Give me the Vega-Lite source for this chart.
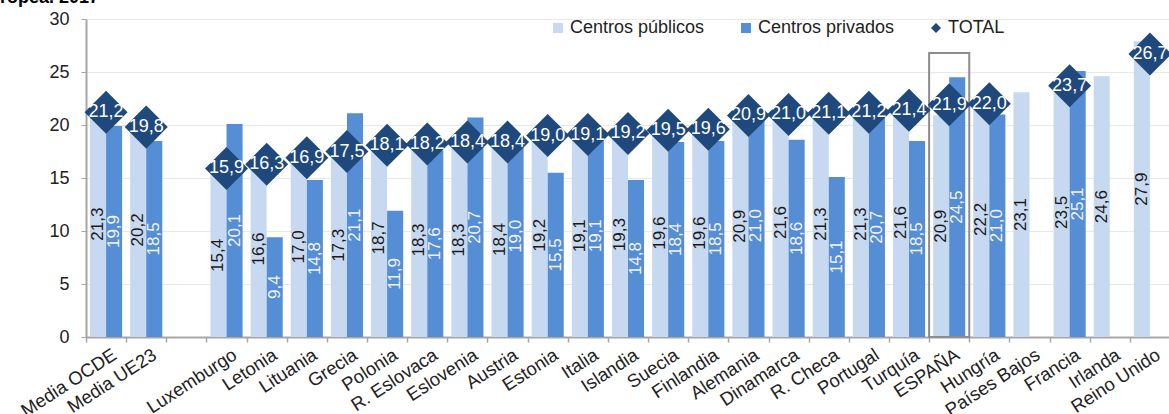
{
  "$schema": "https://vega.github.io/schema/vega-lite/v6.json",
  "autosize": "none",
  "width": 1084,
  "height": 318,
  "padding": {"left": 86, "top": 19, "right": 0, "bottom": 77},
  "background": "white",
  "title": {"text": "ropea. 2017", "anchor": "start", "frame": "group", "dx": -86, "offset": 3, "fontSize": 18, "fontWeight": "bold", "font": "Liberation Sans", "color": "#000000"},
  "config": {
    "view": {"stroke": null},
    "font": "Liberation Sans",
    "locale": {"number": {"decimal": ",", "thousands": ".", "grouping": [3], "currency": ["", " €"]}},
    "legend": {"orient": "none", "legendX": 463, "legendY": 0, "direction": "horizontal", "padding": 0, "symbolSize": 100, "labelFontSize": 18, "labelFont": "Liberation Sans", "labelColor": "#222222", "labelOffset": 3, "columnPadding": 32, "symbolStrokeWidth": 0}
  },
  "data": {"values": [
    {"pais": "Media OCDE", "serie": "Centros públicos", "valor": 21.3},
    {"pais": "Media OCDE", "serie": "Centros privados", "valor": 19.9},
    {"pais": "Media OCDE", "serie": "TOTAL", "valor": 21.2},
    {"pais": "Media UE23", "serie": "Centros públicos", "valor": 20.2},
    {"pais": "Media UE23", "serie": "Centros privados", "valor": 18.5},
    {"pais": "Media UE23", "serie": "TOTAL", "valor": 19.8},
    {"pais": "Luxemburgo", "serie": "Centros públicos", "valor": 15.4},
    {"pais": "Luxemburgo", "serie": "Centros privados", "valor": 20.1},
    {"pais": "Luxemburgo", "serie": "TOTAL", "valor": 15.9},
    {"pais": "Letonia", "serie": "Centros públicos", "valor": 16.6},
    {"pais": "Letonia", "serie": "Centros privados", "valor": 9.4},
    {"pais": "Letonia", "serie": "TOTAL", "valor": 16.3},
    {"pais": "Lituania", "serie": "Centros públicos", "valor": 17.0},
    {"pais": "Lituania", "serie": "Centros privados", "valor": 14.8},
    {"pais": "Lituania", "serie": "TOTAL", "valor": 16.9},
    {"pais": "Grecia", "serie": "Centros públicos", "valor": 17.3},
    {"pais": "Grecia", "serie": "Centros privados", "valor": 21.1},
    {"pais": "Grecia", "serie": "TOTAL", "valor": 17.5},
    {"pais": "Polonia", "serie": "Centros públicos", "valor": 18.7},
    {"pais": "Polonia", "serie": "Centros privados", "valor": 11.9},
    {"pais": "Polonia", "serie": "TOTAL", "valor": 18.1},
    {"pais": "R. Eslovaca", "serie": "Centros públicos", "valor": 18.3},
    {"pais": "R. Eslovaca", "serie": "Centros privados", "valor": 17.6},
    {"pais": "R. Eslovaca", "serie": "TOTAL", "valor": 18.2},
    {"pais": "Eslovenia", "serie": "Centros públicos", "valor": 18.3},
    {"pais": "Eslovenia", "serie": "Centros privados", "valor": 20.7},
    {"pais": "Eslovenia", "serie": "TOTAL", "valor": 18.4},
    {"pais": "Austria", "serie": "Centros públicos", "valor": 18.4},
    {"pais": "Austria", "serie": "Centros privados", "valor": 19.0},
    {"pais": "Austria", "serie": "TOTAL", "valor": 18.4},
    {"pais": "Estonia", "serie": "Centros públicos", "valor": 19.2},
    {"pais": "Estonia", "serie": "Centros privados", "valor": 15.5},
    {"pais": "Estonia", "serie": "TOTAL", "valor": 19.0},
    {"pais": "Italia", "serie": "Centros públicos", "valor": 19.1},
    {"pais": "Italia", "serie": "Centros privados", "valor": 19.1},
    {"pais": "Italia", "serie": "TOTAL", "valor": 19.1},
    {"pais": "Islandia", "serie": "Centros públicos", "valor": 19.3},
    {"pais": "Islandia", "serie": "Centros privados", "valor": 14.8},
    {"pais": "Islandia", "serie": "TOTAL", "valor": 19.2},
    {"pais": "Suecia", "serie": "Centros públicos", "valor": 19.6},
    {"pais": "Suecia", "serie": "Centros privados", "valor": 18.4},
    {"pais": "Suecia", "serie": "TOTAL", "valor": 19.5},
    {"pais": "Finlandia", "serie": "Centros públicos", "valor": 19.6},
    {"pais": "Finlandia", "serie": "Centros privados", "valor": 18.5},
    {"pais": "Finlandia", "serie": "TOTAL", "valor": 19.6},
    {"pais": "Alemania", "serie": "Centros públicos", "valor": 20.9},
    {"pais": "Alemania", "serie": "Centros privados", "valor": 21.0},
    {"pais": "Alemania", "serie": "TOTAL", "valor": 20.9},
    {"pais": "Dinamarca", "serie": "Centros públicos", "valor": 21.6},
    {"pais": "Dinamarca", "serie": "Centros privados", "valor": 18.6},
    {"pais": "Dinamarca", "serie": "TOTAL", "valor": 21.0},
    {"pais": "R. Checa", "serie": "Centros públicos", "valor": 21.3},
    {"pais": "R. Checa", "serie": "Centros privados", "valor": 15.1},
    {"pais": "R. Checa", "serie": "TOTAL", "valor": 21.1},
    {"pais": "Portugal", "serie": "Centros públicos", "valor": 21.3},
    {"pais": "Portugal", "serie": "Centros privados", "valor": 20.7},
    {"pais": "Portugal", "serie": "TOTAL", "valor": 21.2},
    {"pais": "Turquía", "serie": "Centros públicos", "valor": 21.6},
    {"pais": "Turquía", "serie": "Centros privados", "valor": 18.5},
    {"pais": "Turquía", "serie": "TOTAL", "valor": 21.4},
    {"pais": "ESPAÑA", "serie": "Centros públicos", "valor": 20.9},
    {"pais": "ESPAÑA", "serie": "Centros privados", "valor": 24.5},
    {"pais": "ESPAÑA", "serie": "TOTAL", "valor": 21.9},
    {"pais": "Hungría", "serie": "Centros públicos", "valor": 22.2},
    {"pais": "Hungría", "serie": "Centros privados", "valor": 21.0},
    {"pais": "Hungría", "serie": "TOTAL", "valor": 22.0},
    {"pais": "Países Bajos", "serie": "Centros públicos", "valor": 23.1},
    {"pais": "Francia", "serie": "Centros públicos", "valor": 23.5},
    {"pais": "Francia", "serie": "Centros privados", "valor": 25.1},
    {"pais": "Francia", "serie": "TOTAL", "valor": 23.7},
    {"pais": "Irlanda", "serie": "Centros públicos", "valor": 24.6},
    {"pais": "Reino Unido", "serie": "Centros públicos", "valor": 27.9},
    {"pais": "Reino Unido", "serie": "TOTAL", "valor": 26.7}
  ]},
  "encoding": {
    "x": {
      "field": "pais", "type": "nominal", "sort": null,
      "scale": {"domain": ["Media OCDE", "Media UE23", " ", "Luxemburgo", "Letonia", "Lituania", "Grecia", "Polonia", "R. Eslovaca", "Eslovenia", "Austria", "Estonia", "Italia", "Islandia", "Suecia", "Finlandia", "Alemania", "Dinamarca", "R. Checa", "Portugal", "Turquía", "ESPAÑA", "Hungría", "Países Bajos", "Francia", "Irlanda", "Reino Unido"], "paddingInner": 0, "paddingOuter": 0},
      "axis": {"title": null, "tickBand": "extent", "labelAngle": -33, "labelAlign": "right", "labelBaseline": "top", "labelOffset": 3, "labelPadding": 3, "labelFontSize": 18.5, "labelColor": "#222222", "labelFont": "Liberation Sans", "tickSize": 5, "tickColor": "#a6a6a6", "tickWidth": 1.5, "domainColor": "#a6a6a6", "domainWidth": 2, "grid": false, "labelOverlap": false}
    }
  },
  "layer": [
    {
      "transform": [{"filter": "datum.serie !== 'TOTAL'"}],
      "mark": {"type": "bar"},
      "encoding": {
        "xOffset": {"field": "serie", "type": "nominal", "scale": {"domain": ["Centros públicos", "Centros privados"], "paddingInner": 0, "paddingOuter": 0.25}},
        "y": {"field": "valor", "type": "quantitative", "scale": {"domain": [0, 30], "nice": false},
          "axis": {"title": null, "values": [0, 5, 10, 15, 20, 25, 30], "labelFontSize": 18, "labelColor": "#222222", "labelFont": "Liberation Sans", "labelPadding": 12, "tickSize": 5, "tickColor": "#a6a6a6", "domainColor": "#a6a6a6", "domainWidth": 2, "gridColor": "#e8e8e8", "gridWidth": 1}},
        "color": {"field": "serie", "type": "nominal",
          "scale": {"domain": ["Centros públicos", "Centros privados", "TOTAL"], "range": ["#C6D9F1", "#558ED5", "#1F497D"]},
          "legend": {"title": null, "orient": "none", "legendX": 463, "legendY": 0, "direction": "horizontal"}}
      }
    },
    {
      "data": {"values": [{"pais": "ESPAÑA"}]},
      "mark": {"type": "bar", "fill": null, "fillOpacity": 0, "stroke": "#8c8c8c", "strokeWidth": 2},
      "encoding": {
        "y": {"datum": 26.8, "type": "quantitative"},
        "y2": {"datum": 0}
      }
    },
    {
      "transform": [{"filter": "datum.serie !== 'TOTAL'"}, {"calculate": "datum.valor / 2", "as": "mitad"}],
      "mark": {"type": "text", "angle": 270, "align": "center", "baseline": "middle", "fontSize": 17, "font": "Liberation Sans"},
      "encoding": {
        "xOffset": {"field": "serie", "type": "nominal"},
        "y": {"field": "mitad", "type": "quantitative"},
        "text": {"field": "valor", "type": "quantitative", "format": ".1f"},
        "color": {"condition": {"test": "datum.serie === 'Centros públicos'", "value": "#1a1a1a"}, "value": "#f2f2f2"}
      }
    },
    {
      "transform": [{"filter": "datum.serie === 'TOTAL'"}],
      "mark": {"type": "point", "filled": true, "size": 1850, "opacity": 1, "strokeWidth": 0},
      "encoding": {
        "y": {"field": "valor", "type": "quantitative"},
        "color": {"field": "serie", "type": "nominal",
          "scale": {"domain": ["Centros públicos", "Centros privados", "TOTAL"], "range": ["#C6D9F1", "#558ED5", "#1F497D"]},
          "legend": {"title": null, "orient": "none", "legendX": 463, "legendY": 0, "direction": "horizontal"}},
        "shape": {"field": "serie", "type": "nominal",
          "scale": {"domain": ["Centros públicos", "Centros privados", "TOTAL"], "range": ["square", "square", "diamond"]},
          "legend": {"title": null, "orient": "none", "legendX": 463, "legendY": 0, "direction": "horizontal"}}
      }
    },
    {
      "transform": [{"filter": "datum.serie === 'TOTAL'"}],
      "mark": {"type": "text", "align": "center", "baseline": "middle", "fontSize": 18, "font": "Liberation Sans", "color": "#ffffff"},
      "encoding": {
        "y": {"field": "valor", "type": "quantitative"},
        "text": {"field": "valor", "type": "quantitative", "format": ".1f"}
      }
    }
  ]
}
